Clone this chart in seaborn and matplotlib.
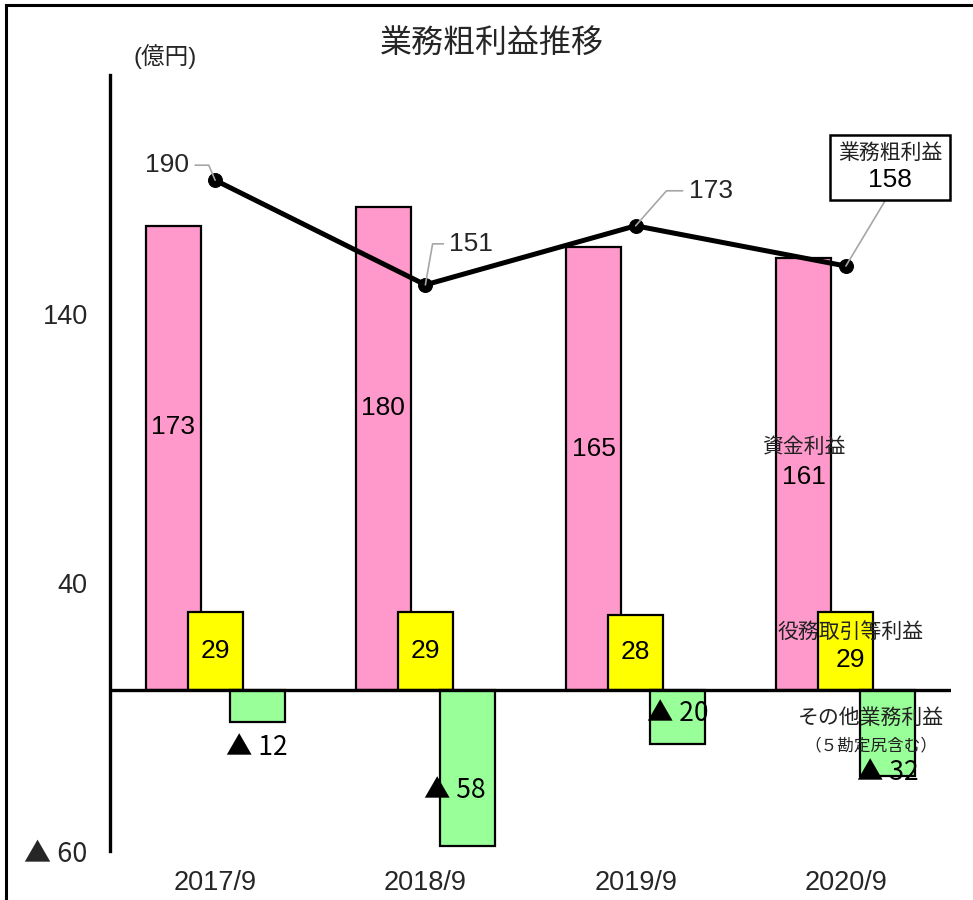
import numpy as np
import pandas as pd
import matplotlib
matplotlib.use("Agg")
import matplotlib.pyplot as plt
from matplotlib.patches import Rectangle
from matplotlib.offsetbox import AnnotationBbox, TextArea, VPacker
import seaborn as sns

# ---------------- data ----------------
categories = ["2017/9", "2018/9", "2019/9", "2020/9"]
series_names = ["資金利益", "役務取引等利益", "その他業務利益"]
shikin = [173, 180, 165, 161]          # 資金利益
ekimu = [29, 29, 28, 29]               # 役務取引等利益
sonota = [-12, -58, -20, -32]          # その他業務利益（5勘定尻含む）
gross = [190, 151, 173, 158]           # 業務粗利益
gross_name = "業務粗利益"
sonota_note = "（５勘定尻含む）"
ytick_values = [-60, 40, 140]
ytick_labels = ["▲ 60", "40", "140"]
title = "業務粗利益推移"
unit_label = "(億円)"

colors = ["#FF99CC", "#FFFF00", "#99FF99"]


def fmt(v):
    return f"▲ {abs(v)}" if v < 0 else f"{v}"


# ---------------- style ----------------
sns.set_style("white")
plt.rcParams["font.family"] = ["Liberation Sans", "Noto Sans CJK JP"]
TRI_FONT = ["Noto Sans CJK JP"]

fig = plt.figure(figsize=(9.73, 9.0), dpi=100)
ax = fig.add_axes([110 / 973, 49 / 900, 841 / 973, 776 / 900])

df = pd.DataFrame({
    "period": categories * 3,
    "series": [series_names[0]] * 4 + [series_names[1]] * 4 + [series_names[2]] * 4,
    "value": shikin + ekimu + sonota,
})

sns.barplot(data=df, x="period", y="value", hue="series", hue_order=series_names,
            palette=colors, saturation=1, width=0.6, dodge=True, errorbar=None,
            edgecolor="black", linewidth=1.6, legend=False, ax=ax, zorder=2)

# widen bars so that they overlap like the original
bar_w = 0.262
for p in ax.patches:
    cx = p.get_x() + p.get_width() / 2
    p.set_width(bar_w)
    p.set_x(cx - bar_w / 2)

xpos = np.arange(len(categories))
sns.lineplot(x=xpos, y=gross, color="black", linewidth=3.6, marker="o",
             markersize=10, markeredgecolor="black", markerfacecolor="black",
             ax=ax, zorder=5)

ax.set_xlim(-0.5, 3.5)
ax.set_ylim(-60, 229.2)
ax.axhline(0, color="black", linewidth=2.4, zorder=3)

for s in ["top", "right", "bottom"]:
    ax.spines[s].set_visible(False)
ax.spines["left"].set_linewidth(2.4)
ax.spines["left"].set_color("black")

ax.set_xticks(xpos)
ax.set_xticklabels(categories, fontsize=19.5)
ax.set_yticks(ytick_values)
ax.set_yticklabels(ytick_labels, fontsize=19.5)
for lab in ax.get_yticklabels():
    if "▲" in lab.get_text():
        lab.set_fontfamily(TRI_FONT)
ax.tick_params(axis="x", length=0, pad=14)
ax.tick_params(axis="y", length=0, pad=16)
ax.set_xlabel("")
ax.set_ylabel("")
ax.grid(False)

# ---------------- labels ----------------
off = 0.2
NUM = 19
cjk_color = "#222222"
txt_kw = dict(ha="center", va="center", color="black", zorder=6)
cjk_kw = dict(ha="center", va="center", color=cjk_color, zorder=6)


def num_text(x, y, v, **kw):
    fam = TRI_FONT if v < 0 else plt.rcParams["font.family"]
    ax.text(x, y, fmt(v), fontsize=NUM, family=fam, **txt_kw, **kw)


# 資金利益
for i in range(3):
    num_text(xpos[i] - off, shikin[i] - 75, shikin[i])
ax.text(xpos[3] - off, shikin[3] - 70.4, series_names[0], fontsize=15, **cjk_kw)
num_text(xpos[3] - off, shikin[3] - 81.6, shikin[3])

# 役務取引等利益
for i in range(3):
    num_text(xpos[i], ekimu[i] / 2, ekimu[i])
ax.text(xpos[3] + 0.02, ekimu[3] / 2 + 7.1, series_names[1], fontsize=15, **cjk_kw)
num_text(xpos[3] + 0.02, ekimu[3] / 2 - 3.3, ekimu[3])

# その他業務利益
green_label_pos = [(0.0, -21.5), (-0.06, -37.3), (0.0, -8.6)]
for i, (dx, y) in enumerate(green_label_pos):
    num_text(xpos[i] + off + dx, y, sonota[i])
ax.text(xpos[3] + 0.12, -10.3, series_names[2], fontsize=15, **cjk_kw)
ax.text(xpos[3] + 0.12, -20.6, sonota_note, fontsize=12, **cjk_kw)
num_text(xpos[3] + 0.2, -30.8, sonota[3])

# 業務粗利益 line labels with leader lines
lead = dict(arrowstyle="-", color="#A6A6A6", lw=1.2, shrinkA=2, shrinkB=0)
ann_offsets = [(-34.6, 10.8), (33.1, 29.5), (54.0, 25.2)]
ann_angles = [113, 80, 48.6]
for i in range(3):
    ax.annotate(fmt(gross[i]), xy=(xpos[i], gross[i]), xytext=ann_offsets[i],
                textcoords="offset points", fontsize=NUM, ha="center", va="center",
                arrowprops=dict(lead, connectionstyle=f"angle,angleA=0,angleB={ann_angles[i]},rad=0"),
                zorder=6)

# boxed label for the last point
box_content = VPacker(children=[
    TextArea(gross_name, textprops=dict(fontsize=15, color=cjk_color)),
    TextArea(fmt(gross[3]), textprops=dict(fontsize=NUM, color="black")),
], align="center", pad=0, sep=4)
ab = AnnotationBbox(box_content, (xpos[3], gross[3]), xybox=(32.0, 71.0),
                    xycoords="data", boxcoords="offset points", pad=0.55,
                    bboxprops=dict(boxstyle="square,pad=0.55", fc="white", ec="black", lw=1.8),
                    arrowprops=dict(arrowstyle="-", color="#A6A6A6", lw=1.2,
                                    shrinkA=0, shrinkB=0, relpos=(0.5, 0.0)),
                    zorder=6)
ax.add_artist(ab)

# ---------------- figure texts & frame ----------------
fig.text(492 / 973, 1 - 45 / 900, title, fontsize=23, ha="center", va="center")
fig.text(165 / 973, 1 - 57 / 900, unit_label, fontsize=17, ha="center", va="center")
fig.add_artist(Rectangle((6 / 973, -0.5), 2, 1 - 5 / 900 + 0.5, transform=fig.transFigure,
                         fill=False, ec="black", lw=2.2))

fig.savefig("out.png", dpi=100)
